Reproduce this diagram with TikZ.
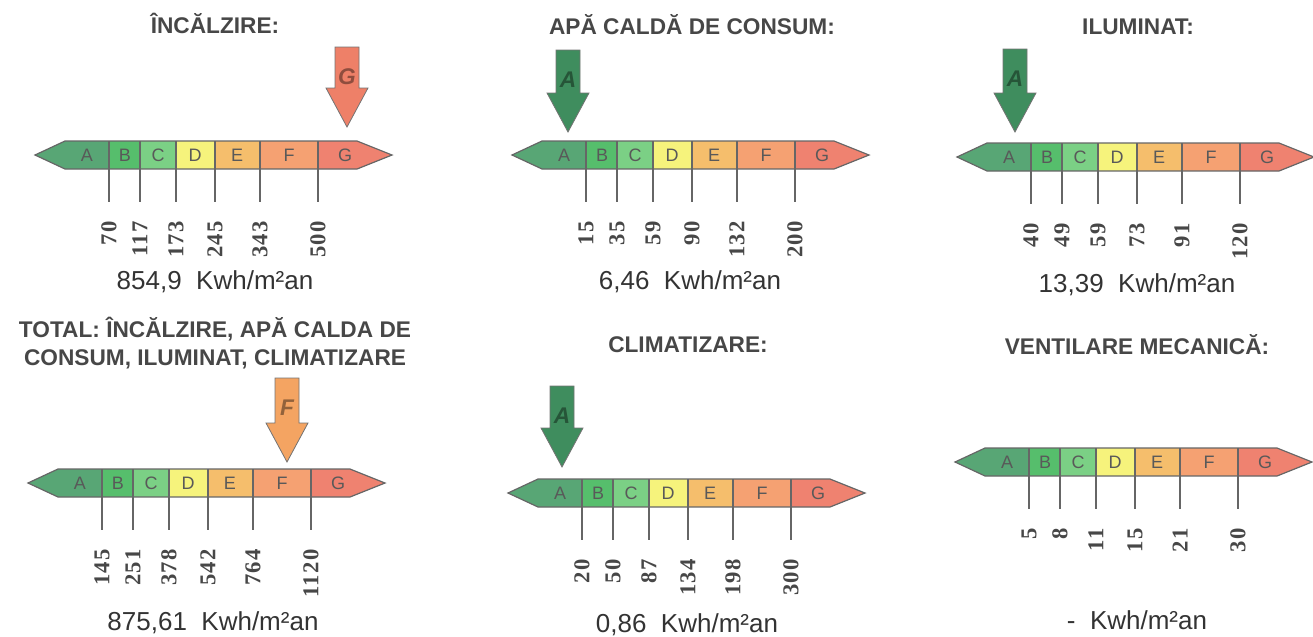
\documentclass[tikz,border=0pt]{standalone}
\usepackage{fontspec}
\setmainfont{Liberation Sans}
\newfontfamily\numfont[LetterSpace=6]{Liberation Serif}

\definecolor{clsA}{HTML}{58A675}
\definecolor{clsB}{HTML}{56BE6C}
\definecolor{clsC}{HTML}{7BD085}
\definecolor{clsD}{HTML}{F6F37C}
\definecolor{clsE}{HTML}{F5BE6C}
\definecolor{clsF}{HTML}{F5A172}
\definecolor{clsG}{HTML}{EF8270}
\definecolor{inkgray}{HTML}{474747}
\definecolor{arrowA}{HTML}{3F8D5E}
\definecolor{arrowF}{HTML}{F4A462}
\definecolor{arrowG}{HTML}{EE8068}

% one scale: name, left tip x, centre y, six limits
\newcommand{\ratingbar}[9]{%
  \begin{scope}[shift={(#2,#3)}]
    \fill[clsA] (0,0) -- (30,-14) -- (74,-14) -- (74,14) -- (30,14) -- cycle;
    \fill[clsB] (74,-14) rectangle (105,14);
    \fill[clsC] (105,-14) rectangle (141,14);
    \fill[clsD] (141,-14) rectangle (180,14);
    \fill[clsE] (180,-14) rectangle (225,14);
    \fill[clsF] (225,-14) rectangle (283,14);
    \fill[clsG] (283,-14) -- (322,-14) -- (357,0) -- (322,14) -- (283,14) -- cycle;
    \draw[barline] (0,0) -- (30,-14) -- (322,-14) -- (357,0) -- (322,14) -- (30,14) -- cycle;
    \foreach \l/\lx in {A/52,B/90,C/123,D/160,E/202,F/254,G/310}
      \node[classletter] (#1-\l) at (\lx,0) {\l};
    \foreach \bx/\val [count=\i] in {74/#4,105/#5,141/#6,180/#7,225/#8,283/#9} {
      \coordinate (#1-top\i) at (\bx,-14);
      \coordinate (#1-bot\i) at (\bx,47);
      \draw[barline] (#1-top\i) -- (#1-bot\i);
      \node[tickvalue] (#1-val\i) at (\bx,66) {\val};
    }
  \end{scope}}

% pointer: name, centre x, top y, tip y, colour, letter
\newcommand{\classarrow}[6]{%
  \filldraw[fill=#5, draw=black!55, line width=0.6pt]
    (#2-12,#3) -- (#2+12,#3) -- (#2+12,#4-39) -- (#2+21,#4-39) -- (#2,#4)
    -- (#2-21,#4-39) -- (#2-12,#4-39) -- cycle;
  \node[arrowletter, text=#5!60!black] (#1) at (#2,#3+30) {#6};}

\begin{document}
\begin{tikzpicture}[x=0.75pt, y=-0.75pt,
    barline/.style={draw=black!60, line width=0.9pt},
    classletter/.style={font=\fontsize{13.5}{13.5}\selectfont, text=black!65, inner sep=0pt},
    tickvalue/.style={rotate=90, anchor=east, inner sep=0pt, text=inkgray,
      font=\numfont\bfseries\fontsize{17}{17}\selectfont},
    arrowletter/.style={font=\bfseries\itshape\fontsize{17}{17}\selectfont, inner sep=0pt},
    title/.style={font=\bfseries\fontsize{17}{21}\selectfont, text=inkgray, align=center},
    value/.style={font=\fontsize{19.5}{21}\selectfont, text=black!80}
]
    \useasboundingbox (0,0) rectangle (1313,636);

    % top row
    \node[title] (heat-title) at (215,23) {ÎNCĂLZIRE:};
    \classarrow{heat-ptr}{347}{47}{127}{arrowG}{G}
    \ratingbar{heat}{35}{155}{70}{117}{173}{245}{343}{500}
    \node[value] (heat-value) at (215,282) {854,9\ \ Kwh/m²an};

    \node[title] (water-title) at (692,25) {APĂ CALDĂ DE CONSUM:};
    \classarrow{water-ptr}{568}{50}{132}{arrowA}{A}
    \ratingbar{water}{512}{155}{15}{35}{59}{90}{132}{200}
    \node[value] (water-value) at (690,282) {6,46\ \ Kwh/m²an};

    \node[title] (light-title) at (1138,27) {ILUMINAT:};
    \classarrow{light-ptr}{1015}{49}{132}{arrowA}{A}
    \ratingbar{light}{957}{157}{40}{49}{59}{73}{91}{120}
    \node[value] (light-value) at (1137,285) {13,39\ \ Kwh/m²an};

    % bottom row
    \node[title] (total-title) at (215,343) {TOTAL: ÎNCĂLZIRE, APĂ CALDA DE\\CONSUM, ILUMINAT, CLIMATIZARE};
    \classarrow{total-ptr}{287}{378}{462}{arrowF}{F}
    \ratingbar{total}{28}{483}{145}{251}{378}{542}{764}{1120}
    \node[value] (total-value) at (213,623) {875,61\ \ Kwh/m²an};

    \node[title] (cool-title) at (688,345) {CLIMATIZARE:};
    \classarrow{cool-ptr}{562}{386}{467}{arrowA}{A}
    \ratingbar{cool}{508}{493}{20}{50}{87}{134}{198}{300}
    \node[value] (cool-value) at (687,625) {0,86\ \ Kwh/m²an};

    \node[title] (vent-title) at (1137,345) {VENTILARE MECANICĂ:};
    \ratingbar{vent}{955}{462}{5}{8}{11}{15}{21}{30}
    \node[value] (vent-value) at (1137,620) {-\ \ Kwh/m²an};
\end{tikzpicture}
\end{document}
